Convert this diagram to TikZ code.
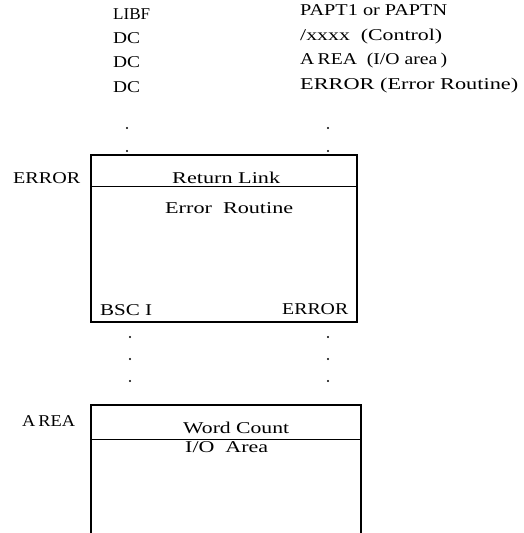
\documentclass[tikz,border=0pt]{standalone}
\usepackage{graphicx}
\usepackage{fontspec}
\setmainfont{Liberation Serif}
\newcommand{\fw}[2]{\resizebox{#1pt}{\height}{#2}}
\tikzset{
  lbl/.style={inner sep=0pt, anchor=base west, font=\fontsize{16.5}{19}\selectfont},
  boxline/.style={line width=1.1pt},
  divline/.style={line width=0.9pt},
  dotmark/.style={fill=black, circle, inner sep=0pt, minimum size=2.2pt}
}
\begin{document}
\begin{tikzpicture}[x=1pt,y=-1pt]
\useasboundingbox (0,0) rectangle (523,533);
% top listing
\node[lbl] (libf) at (113,19) {\fw{37}{LIBF}};
\node[lbl] (dc1) at (113,43) {\fw{27}{DC}};
\node[lbl] (dc2) at (113,67) {\fw{27}{DC}};
\node[lbl] (dc3) at (113,92) {\fw{27}{DC}};
\node[lbl] (papt) at (300,15) {\fw{147}{PAPT1 or PAPTN}};
\node[lbl] (ctrl) at (300,40) {\fw{142}{/xxxx\ \ (Control)}};
\node[lbl] (area1) at (300,64) {\fw{147}{A\,REA\ \ (I/O area\,)}};
\node[lbl] (err1) at (300,89) {\fw{218}{ERROR (Error Routine)}};
% dots
\node[dotmark] (d1) at (127,128) {};
\node[dotmark] (d2) at (127,151) {};
\node[dotmark] (d3) at (328,128) {};
\node[dotmark] (d4) at (328,151) {};
% error box
\draw[boxline] (91,155) rectangle (357,322);
\draw[divline] (91,186) -- (357,186);
\node[lbl] (errlbl) at (13,183) {\fw{67}{ERROR}};
\node[lbl] (retlink) at (172,183) {\fw{108}{Return Link}};
\node[lbl] (errrout) at (165,213) {\fw{128}{Error\ \ Routine}};
\node[lbl] (bsc) at (100,315) {\fw{52}{BSC I}};
\node[lbl] (err2) at (282,314) {\fw{66}{ERROR}};
% dots below
\node[dotmark] (d5) at (130,337) {};
\node[dotmark] (d6) at (130,359) {};
\node[dotmark] (d7) at (130,381) {};
\node[dotmark] (d8) at (328,337) {};
\node[dotmark] (d9) at (328,359) {};
\node[dotmark] (d10) at (328,381) {};
% area box
\draw[boxline] (91,533) -- (91,405) -- (361,405) -- (361,533);
\draw[divline] (91,439) -- (361,439);
\node[lbl] (arealbl) at (22,426) {\fw{53}{A\,REA}};
\node[lbl] (wc) at (183,433) {\fw{106}{Word Count}};
\node[lbl] (io) at (185,452) {\fw{83}{I/O\ \ Area}};
\end{tikzpicture}
\end{document}
